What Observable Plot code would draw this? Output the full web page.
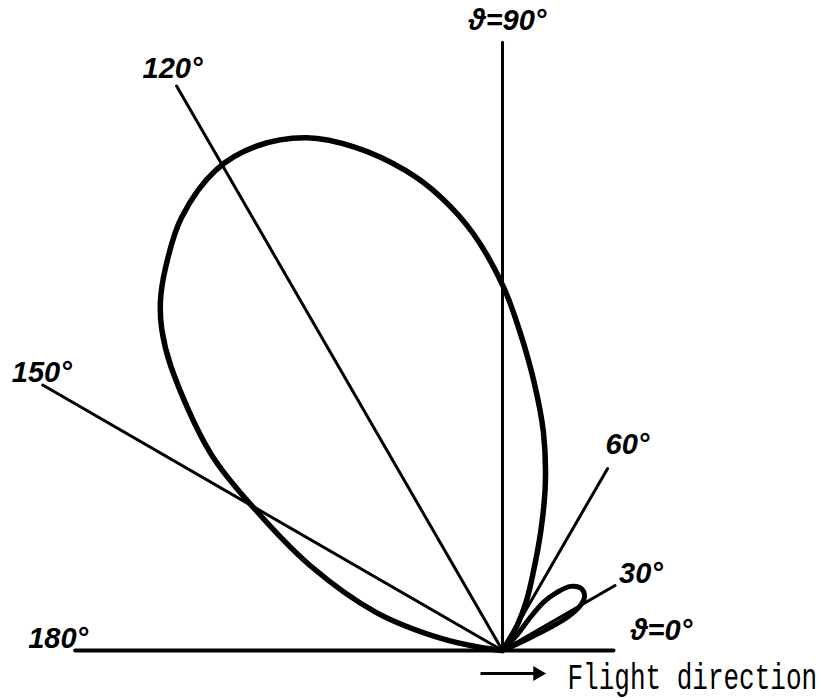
<!DOCTYPE html>
<html>
<head>
<meta charset="utf-8">
<script src="https://cdn.jsdelivr.net/npm/d3@7"></script>
<script src="https://cdn.jsdelivr.net/npm/@observablehq/plot@0.6"></script>
<style>
  html, body { margin: 0; padding: 0; background: #fff; }
  #chart svg { display: block; }
</style>
</head>
<body>
<div id="chart"></div>
<script>
// Radiation pattern in the half-plane above the flight path.
// Angle ϑ is measured from the flight direction (degrees); radius in relative units.
const mainLobeAngle  = [57, 60.0, 64.0, 67.9, 72.3, 75.7, 79.4, 83.4, 86.8, 89.8, 94.0, 97.8, 101.4, 106.3, 110.9, 116.0, 120.8, 126.6, 131.5, 134.4, 136.7, 139.4, 146.0, 150.4, 156.2, 163.2, 169.0, 172.0, 175];
const mainLobeRadius = [0,  5.4,  9.6, 14.1, 22.6, 31.0, 39.7, 48.5, 56.8, 64.8, 74.6, 81.8, 87.4, 93.6, 98.0, 100.2, 99.9, 96.2, 90.9, 87.3, 83.6, 78.0, 62.8, 50.6, 37.5, 23.6, 11.0,  4.2, 0];

const minorLobeAngle  = [50, 47.0, 50.0, 49.5, 46.8, 43.3, 38.3, 33.2, 29.6, 27.2, 25.9, 25.0, 23.5, 21];
const minorLobeRadius = [0,  3.8,  7.8, 11.4, 14.3, 16.7, 17.9, 17.5, 15.8, 13.1,  9.6,  6.3,  3.0, 0];

// Reference rays and their labels
const rayAngle  = [0, 30, 60, 90, 120, 150, 180];
const rayLength = [19.8, 23.2, 37.5, 108.6, 116.4, 94.8, 76.3];
const rayLabel  = ["ϑ=0°", "30°", "60°", "ϑ=90°", "120°", "150°", "180°"];

const captionText = "Flight direction";

// ---- layout (pixels) ----
const W = 821, H = 700;
const pxPerUnit = 5.6;
const originPx = [502, 650];
const labelOffset = {0: [48, -20], 30: [26, -12], 60: [20, -24], 90: [5, -22], 120: [-4, -17], 150: [-1, -12], 180: [-17, -12]};
const arrowPx = {x1: 480, x2: 537, y: 673};
const captionPx = {x: 567, y: 677};

const rad = a => a * Math.PI / 180;
const px2x = p => (p - originPx[0]) / pxPerUnit;
const px2y = p => (originPx[1] - p) / pxPerUnit;

const mainLobe  = mainLobeAngle.map((a, i) => ({angle: a, r: mainLobeRadius[i]}));
const minorLobe = minorLobeAngle.map((a, i) => ({angle: a, r: minorLobeRadius[i]}));
const rays = rayAngle.map((a, i) => ({angle: a, length: rayLength[i], label: rayLabel[i]}));

const polarX = d => d.r * Math.cos(rad(d.angle));
const polarY = d => d.r * Math.sin(rad(d.angle));

const labelFont = "Liberation Sans, Arial, sans-serif";

const chart = Plot.plot({
  width: W,
  height: H,
  margin: 0,
  x: {domain: [px2x(0), px2x(W)], axis: null},
  y: {domain: [px2y(H), px2y(0)], axis: null},
  style: {background: "#fff", color: "#000"},
  marks: [
    // rays from the source point
    Plot.link(rays, {
      x1: () => 0, y1: () => 0,
      x2: d => d.length * Math.cos(rad(d.angle)),
      y2: d => d.length * Math.sin(rad(d.angle)),
      stroke: "#000",
      strokeWidth: d => (d.angle % 180 === 0 ? 4.2 : 3),
      strokeLinecap: "round"
    }),
    // lobes
    Plot.line(mainLobe, {x: polarX, y: polarY, curve: "catmull-rom", stroke: "#000", strokeWidth: 5.5, strokeLinejoin: "round"}),
    Plot.line(minorLobe, {x: polarX, y: polarY, curve: "catmull-rom", stroke: "#000", strokeWidth: 5, strokeLinejoin: "round"}),
    // ray labels
    ...rays.map(d => Plot.text([d], {
      x: d => d.length * Math.cos(rad(d.angle)),
      y: d => d.length * Math.sin(rad(d.angle)),
      text: "label",
      dx: labelOffset[d.angle][0],
      dy: labelOffset[d.angle][1],
      fontFamily: labelFont,
      fontSize: 29,
      fontStyle: "italic",
      fontWeight: "bold",
      fill: "#000"
    })),
    // flight direction arrow and caption
    Plot.link([0], {
      x1: () => px2x(arrowPx.x1), x2: () => px2x(arrowPx.x2),
      y1: () => px2y(arrowPx.y), y2: () => px2y(arrowPx.y),
      stroke: "#000", strokeWidth: 3
    }),
    Plot.dot([0], {
      x: () => px2x(arrowPx.x2), y: () => px2y(arrowPx.y),
      symbol: "triangle", rotate: 90, r: 5.5, fill: "#000", stroke: "none"
    }),
    Plot.text([captionText], {
      x: () => px2x(captionPx.x), y: () => px2y(captionPx.y),
      text: d => d,
      textAnchor: "start",
      fontFamily: "Liberation Mono, Courier New, monospace",
      fontSize: 26,
      fill: "#000"
    })
  ]
});

document.getElementById("chart").appendChild(chart);

// Typewriter caption is taller than wide: stretch it vertically around its anchor.
d3.select(chart).selectAll("text").filter(function () { return this.textContent === captionText; })
  .each(function () {
    const t = d3.select(this);
    const tr = t.attr("transform");
    if (tr) {
      t.attr("transform", tr + " scale(1,1.4)");
    } else {
      const x = +t.attr("x") || 0, y = +t.attr("y") || 0;
      t.attr("x", null).attr("y", null).attr("transform", `translate(${x},${y}) scale(1,1.4)`);
    }
  });
</script>
</body>
</html>
